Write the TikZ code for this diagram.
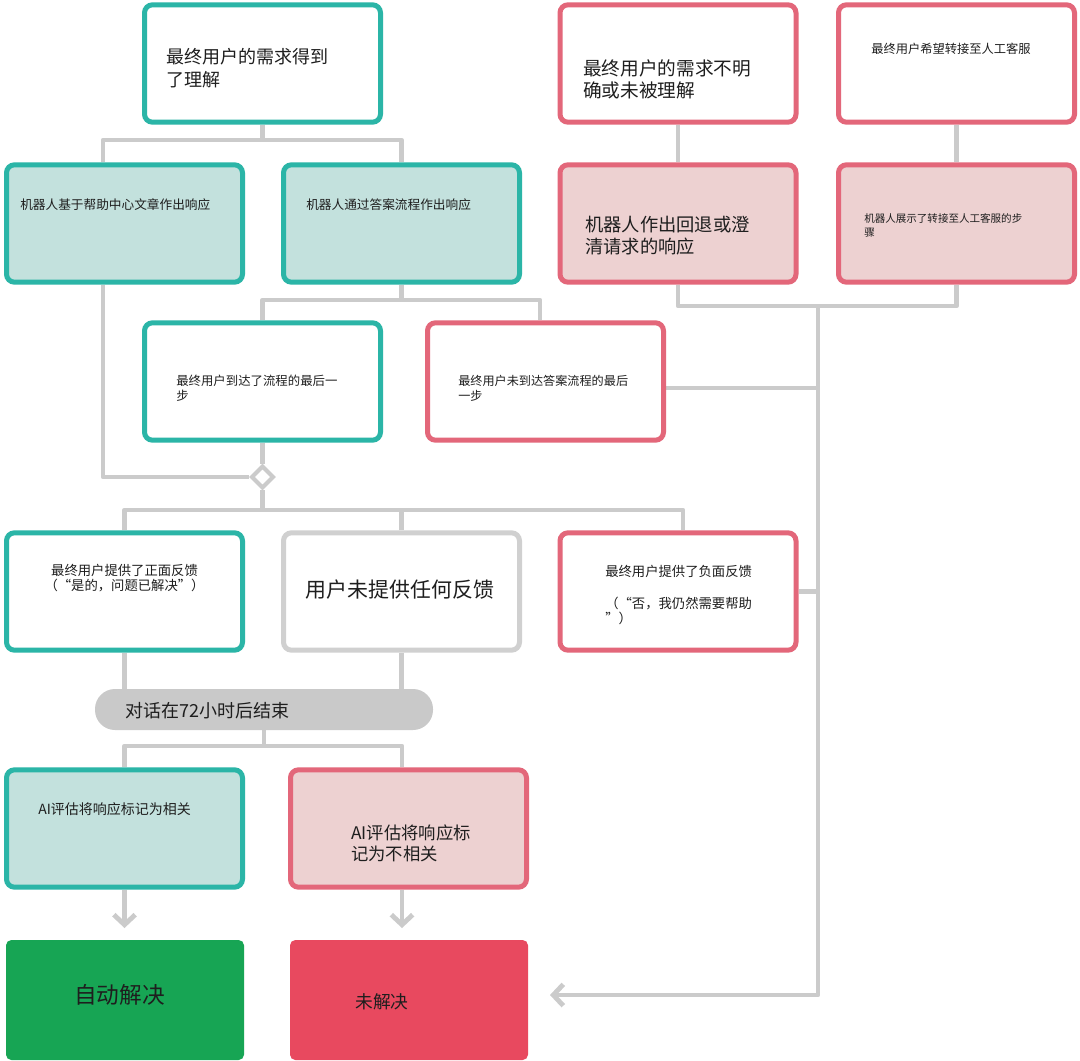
\documentclass[tikz,border=0pt]{standalone}
\usepackage{fontspec}
\setmainfont{Noto Sans CJK SC}
\usetikzlibrary{shapes.geometric,arrows.meta,calc}
\definecolor{tealc}{HTML}{2BB5A7}
\definecolor{tealfill}{HTML}{C3E1DD}
\definecolor{redc}{HTML}{E3677A}
\definecolor{pinkfill}{HTML}{EDD1D1}
\definecolor{linec}{HTML}{CBCBCB}
\definecolor{grayb}{HTML}{D0D0D0}
\definecolor{pillc}{HTML}{C9C9C9}
\definecolor{greenc}{HTML}{17A554}
\definecolor{redsolid}{HTML}{E8495F}
\definecolor{ink}{HTML}{1E1E1E}
\pgfdeclarelayer{back}
\pgfdeclarelayer{bg}
\pgfsetlayers{back,bg,main}
\begin{document}
\begin{tikzpicture}[x=0.75pt,y=-0.75pt,
  box/.style={rounded corners=6pt, line width=3.75pt, minimum width=177pt, minimum height=88pt, inner sep=0pt},
  tw/.style={box, draw=tealc, fill=white},
  tf/.style={box, draw=tealc, fill=tealfill},
  rw/.style={box, draw=redc, fill=white},
  rf/.style={box, draw=redc, fill=pinkfill},
  gw/.style={box, draw=grayb, fill=white},
  pill/.style={rounded corners=15pt, fill=pillc, minimum width=253.5pt, minimum height=30.75pt, inner sep=0pt},
  endbox/.style={rounded corners=4pt, minimum width=178.5pt, minimum height=90pt, inner sep=0pt},
  dia/.style={diamond, aspect=1, draw=linec, fill=white, line width=3pt, minimum width=17pt, minimum height=17pt, inner sep=0pt},
  txt/.style={inner sep=0pt, anchor=west, align=left, text=ink},
  conn/.style={draw=linec, line width=3.6pt, line join=round},
  tip/.style={-{Straight Barb[length=7.5pt,width=16pt]}}
]
\begin{pgfonlayer}{back}
\useasboundingbox[fill=white] (0,0) rectangle (1080,1060);
\end{pgfonlayer}

% boxes
\node[tw] (A) at (262.5,63.5) {};
\node[tf] (B) at (124.5,223.5) {};
\node[tf] (C) at (401.5,223.5) {};
\node[rw] (D) at (678,63.5) {};
\node[rw] (E) at (956.5,63.5) {};
\node[rf] (F) at (678,223.5) {};
\node[rf] (G) at (956.5,223.5) {};
\node[tw] (H) at (262.5,381.5) {};
\node[rw] (I) at (545.5,381.5) {};
\node[tw] (J) at (124.5,591.5) {};
\node[gw] (K) at (401.5,591.5) {};
\node[rw] (L) at (678,591.5) {};
\node[pill] (M) at (264,709.5) {};
\node[tf] (N) at (124.5,828.5) {};
\node[rf] (O) at (408.5,828.5) {};
\node[endbox, fill=greenc] (P) at (125,1000) {};
\node[endbox, fill=redsolid] (Q) at (409,1000) {};
\node[dia] (dm) at (262.5,477) {};

% texts
\node[txt, font=\fontsize{13.5pt}{17.25pt}\selectfont] (At) at (166,68.5) {最终用户的需求得到\\了理解};
\node[txt, font=\fontsize{9.5pt}{11.5pt}\selectfont] (Bt) at (20,205) {机器人基于帮助中心文章作出响应};
\node[txt, font=\fontsize{9.5pt}{11.5pt}\selectfont] (Ct) at (306,205) {机器人通过答案流程作出响应};
\node[txt, font=\fontsize{14pt}{16.5pt}\selectfont] (Dt) at (583,79) {最终用户的需求不明\\确或未被理解};
\node[txt, font=\fontsize{9.2pt}{11pt}\selectfont] (Et) at (871,49) {最终用户希望转接至人工客服};
\node[txt, font=\fontsize{13.7pt}{16.5pt}\selectfont] (Ft) at (585,236) {机器人作出回退或澄\\清请求的响应};
\node[txt, font=\fontsize{7.9pt}{10.5pt}\selectfont] (Gt) at (864,225) {机器人展示了转接至人工客服的步\\骤};
\node[txt, font=\fontsize{9.3pt}{11.25pt}\selectfont] (Ht) at (176,388) {最终用户到达了流程的最后一\\步};
\node[txt, font=\fontsize{9.1pt}{11.25pt}\selectfont] (It) at (458,388) {最终用户未到达答案流程的最后\\一步};
\node[txt, anchor=center, align=center, font=\fontsize{10pt}{11.5pt}\selectfont] (Jt) at (124.5,578) {最终用户提供了正面反馈\\（“是的，问题已解决”）};
\node[txt, anchor=center, font=\fontsize{15.7pt}{18pt}\selectfont] (Kt) at (400,590) {用户未提供任何反馈};
\node[txt, font=\fontsize{10pt}{11.25pt}\selectfont] (Lt) at (605,594.5) {最终用户提供了负面反馈\\[12.75pt]（“否，我仍然需要帮助\\”）};
\node[txt, font=\fontsize{13.5pt}{16pt}\selectfont] (Mt) at (125,711) {对话在72小时后结束};
\node[txt, font=\fontsize{10.5pt}{12pt}\selectfont] (Nt) at (38,809) {AI评估将响应标记为相关};
\node[txt, font=\fontsize{13pt}{16pt}\selectfont] (Ot) at (351,843.5) {AI评估将响应标\\记为不相关};
\node[txt, font=\fontsize{17pt}{20pt}\selectfont] (Pt) at (74,995) {自动解决};
\node[txt, font=\fontsize{13.3pt}{16pt}\selectfont] (Qt) at (355,1002) {未解决};

% connectors
\coordinate (xb) at (103,0);
\coordinate (xi) at (540,0);
\coordinate (xl) at (683,0);
\coordinate (yi) at (0,388);
\coordinate (j1) at (262.5,140);
\coordinate (j2) at (401.5,300);
\coordinate (j3) at (262.5,510);
\coordinate (j4) at (818,306);
\coordinate (j5) at (264,746);
\coordinate (qa) at (550,995);
\coordinate (tn) at (124.5,928);
\coordinate (to) at (402,928);
\begin{pgfonlayer}{bg}
\draw[conn] (A.south) -- (j1);
\draw[conn] (B.north -| xb) |- (j1) -| (C.north);
\draw[conn] (B.south -| xb) |- (dm.west);
\draw[conn] (C.south) -- (j2);
\draw[conn] (H.north) |- (j2) -| (I.north -| xi);
\draw[conn] (H.south) -- (dm.north);
\draw[conn] (dm.south) -- (j3);
\draw[conn] (J.north) |- (j3) -| (L.north -| xl);
\draw[conn] (K.north) -- (K.north |- j3);
\draw[conn] (D.south) -- (F.north);
\draw[conn] (E.south) -- (G.north);
\draw[conn] (F.south) |- (j4) -| (G.south);
\draw[conn,tip] (j4) |- (qa);
\draw[conn] (I.east |- yi) -- (j4 |- yi);
\draw[conn] (L.east) -- (L.east -| j4);
\draw[conn] (J.south) -- (J.south |- M.north);
\draw[conn] (K.south) -- (K.south |- M.north);
\draw[conn] (M.south) -- (j5);
\draw[conn] (N.north) |- (j5) -| (O.north -| to);
\draw[conn,tip] (N.south) -- (tn);
\draw[conn,tip] (O.south -| to) -- (to);
\end{pgfonlayer}
\end{tikzpicture}
\end{document}
